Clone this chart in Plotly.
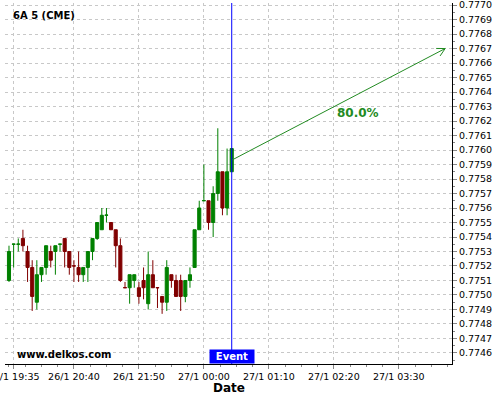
import math
import plotly.graph_objects as go

# ---- data -------------------------------------------------------------
idx = list(range(49))
opens = [0.77510, 0.77535, 0.77535, 0.77539, 0.77530, 0.77519, 0.77495, 0.77514, 0.77519, 0.77530,
         0.77530, 0.77535, 0.77539, 0.77530, 0.775201, 0.77519, 0.77514, 0.77519, 0.77530, 0.77539,
         0.77545, 0.77555, 0.77550, 0.77545, 0.77534, 0.775051, 0.77505, 0.77510, 0.77505, 0.77510,
         0.77494, 0.77514, 0.775051, 0.77499, 0.77495, 0.77514, 0.77510, 0.77510, 0.77499, 0.77510,
         0.77519, 0.77545, 0.77565, 0.77565, 0.77550, 0.77570, 0.77585, 0.77560, 0.77585]
highs = [0.77534, 0.77535, 0.77539, 0.77545, 0.77534, 0.77524, 0.77524, 0.77519, 0.77534, 0.77534,
         0.77534, 0.77535, 0.77539, 0.77530, 0.77524, 0.77530, 0.77519, 0.77530, 0.77539, 0.77550,
         0.77560, 0.77560, 0.77550, 0.77545, 0.77539, 0.77509, 0.77514, 0.77514, 0.77509, 0.77519,
         0.77530, 0.77524, 0.77505, 0.77499, 0.77524, 0.77514, 0.77514, 0.77514, 0.77510, 0.77519,
         0.77545, 0.77565, 0.77590, 0.77565, 0.77575, 0.77615, 0.77585, 0.77601, 0.77601]
lows = [0.77509, 0.77519, 0.77530, 0.77530, 0.77509, 0.77489, 0.77490, 0.77509, 0.77514, 0.77519,
        0.77514, 0.77530, 0.77519, 0.77514, 0.77509, 0.77509, 0.77509, 0.77509, 0.77524, 0.77538,
        0.77545, 0.77550, 0.77545, 0.77519, 0.77509, 0.77505, 0.77494, 0.77505, 0.77494, 0.77497,
        0.77490, 0.77505, 0.77491, 0.77487, 0.77489, 0.77505, 0.77499, 0.77489, 0.77495, 0.77505,
        0.77519, 0.77545, 0.77565, 0.77545, 0.77540, 0.77565, 0.77555, 0.77555, 0.77585]
closes = [0.77530, 0.775351, 0.775351, 0.77534, 0.77519, 0.77499, 0.77514, 0.77519, 0.77534, 0.77524,
          0.77534, 0.775351, 0.77530, 0.77519, 0.77520, 0.77514, 0.77519, 0.77530, 0.77539, 0.77550,
          0.77555, 0.775551, 0.77545, 0.77534, 0.77510, 0.77505, 0.77514, 0.77514, 0.77499, 0.77505,
          0.77514, 0.77505, 0.77505, 0.77495, 0.77519, 0.77510, 0.77499, 0.77499, 0.77510, 0.77514,
          0.77545, 0.77560, 0.775651, 0.77550, 0.77570, 0.77585, 0.77560, 0.77585, 0.77601]

tick_pos = [1, 14, 28, 42, 56, 70, 84]
tick_text = ["26/1 19:35", "26/1 20:40", "26/1 21:50", "27/1 00:00", "27/1 01:10", "27/1 02:20", "27/1 03:30"]

event_x = 48
arrow_start = (48, 0.77593)
arrow_end = (94, 0.7767)
prob_label = "80.0%"
label_pos = (75.2, 0.776255)

title_text = "6A 5 (CME)"
watermark = "www.delkos.com"
x_title = "Date"

# ---- layout constants ---------------------------------------------------
W, H = 500, 400
ML, MR, MT, MB = 5, 48, 3, 36
XR = [-0.86, 95.47]
YR = [0.774524, 0.777014]
GREEN = "#008000"
RED = "#800000"
ARROW = "#228b22"
FONT = "DejaVu Sans"

fig = go.Figure()
fig.add_trace(go.Candlestick(
    x=idx, open=opens, high=highs, low=lows, close=closes,
    increasing=dict(line=dict(color=GREEN, width=1), fillcolor=GREEN),
    decreasing=dict(line=dict(color=RED, width=1), fillcolor=RED),
    whiskerwidth=0, showlegend=False, hoverinfo="skip"))

# arrow shaft
fig.add_trace(go.Scatter(x=[arrow_start[0], arrow_end[0]], y=[arrow_start[1], arrow_end[1]],
                         mode="lines", line=dict(color=ARROW, width=1), showlegend=False, hoverinfo="skip"))

# open arrow head, oriented in screen space
pw = W - ML - MR
ph = H - MT - MB
sx = pw / (XR[1] - XR[0])
sy = ph / (YR[1] - YR[0])
dxp = (arrow_start[0] - arrow_end[0]) * sx
dyp = (arrow_start[1] - arrow_end[1]) * sy
L = math.hypot(dxp, dyp)
ux, uy = dxp / L, dyp / L
hx, hy = [], []
for ang in (math.radians(28), 0, math.radians(-28)):
    if ang == 0:
        hx.append(arrow_end[0]); hy.append(arrow_end[1]); continue
    rx = ux * math.cos(ang) - uy * math.sin(ang)
    ry = ux * math.sin(ang) + uy * math.cos(ang)
    hx.append(arrow_end[0] + rx * 9 / sx)
    hy.append(arrow_end[1] + ry * 9 / sy)
fig.add_trace(go.Scatter(x=hx, y=hy, mode="lines", line=dict(color=ARROW, width=1),
                         showlegend=False, hoverinfo="skip"))

fig.add_shape(type="line", xref="x", yref="paper", x0=event_x, x1=event_x, y0=0, y1=1,
              line=dict(color="#0000ff", width=1))

fig.add_annotation(x=label_pos[0], y=label_pos[1], xref="x", yref="y", text="<b>%s</b>" % prob_label,
                   showarrow=False, font=dict(family=FONT, size=12, color=ARROW))
fig.add_annotation(x=event_x, y=0, xref="x", yref="paper", yanchor="bottom", text="<b>Event</b>",
                   showarrow=False, bgcolor="#0000ff", width=42, borderpad=1,
                   font=dict(family=FONT, size=10, color="white"))
fig.add_annotation(x=(15 - ML) / pw, y=(364 - 354) / ph, xref="paper", yref="paper", xanchor="left",
                   yanchor="middle", text="<b>%s</b>" % watermark, showarrow=False,
                   font=dict(family=FONT, size=10, color="black"))
fig.add_annotation(x=(11 - ML) / pw, y=1 - (15 - MT) / ph, xref="paper", yref="paper", xanchor="left",
                   yanchor="middle", text="<b>%s</b>" % title_text, showarrow=False,
                   font=dict(family=FONT, size=10, color="black"))
fig.add_annotation(x=0.5, y=-(388 - (H - MB)) / ph, xref="paper", yref="paper", yanchor="middle",
                   text="<b>%s</b>" % x_title, showarrow=False,
                   font=dict(family=FONT, size=12, color="black"))

grid = dict(showgrid=True, gridcolor="#c8c8c8", gridwidth=1, griddash="3px,3px")
fig.update_layout(
    width=W, height=H, margin=dict(l=ML, r=MR, t=MT, b=MB, autoexpand=False),
    paper_bgcolor="white", plot_bgcolor="white",
    font=dict(family=FONT, size=10, color="black"),
    boxgap=0.05,
    xaxis=dict(range=XR, rangeslider=dict(visible=False), tickmode="array", tickvals=tick_pos,
               ticktext=tick_text, ticks="outside", ticklen=4, tickcolor="#888", showline=True,
               linecolor="black", zeroline=False, tickfont=dict(size=9.5), automargin=False,
               ticklabeloverflow="allow",
               minor=dict(ticks="outside", ticklen=2, dtick=3.5, tick0=0, tickcolor="#888", showgrid=False),
               **grid),
    yaxis=dict(range=YR, side="right", dtick=0.0001, tick0=0.7746, tickformat=".4f", ticks="outside",
               ticklen=4, tickcolor="#888", showline=True, linecolor="black", zeroline=False,
               tickfont=dict(size=9.5), automargin=False, ticklabeloverflow="allow",
               minor=dict(ticks="outside", ticklen=2, dtick=0.00005, tickcolor="#888", showgrid=False),
               **grid),
)

fig.write_html("out.html", config={"displayModeBar": False},
               post_script="document.body.style.margin='0';")
